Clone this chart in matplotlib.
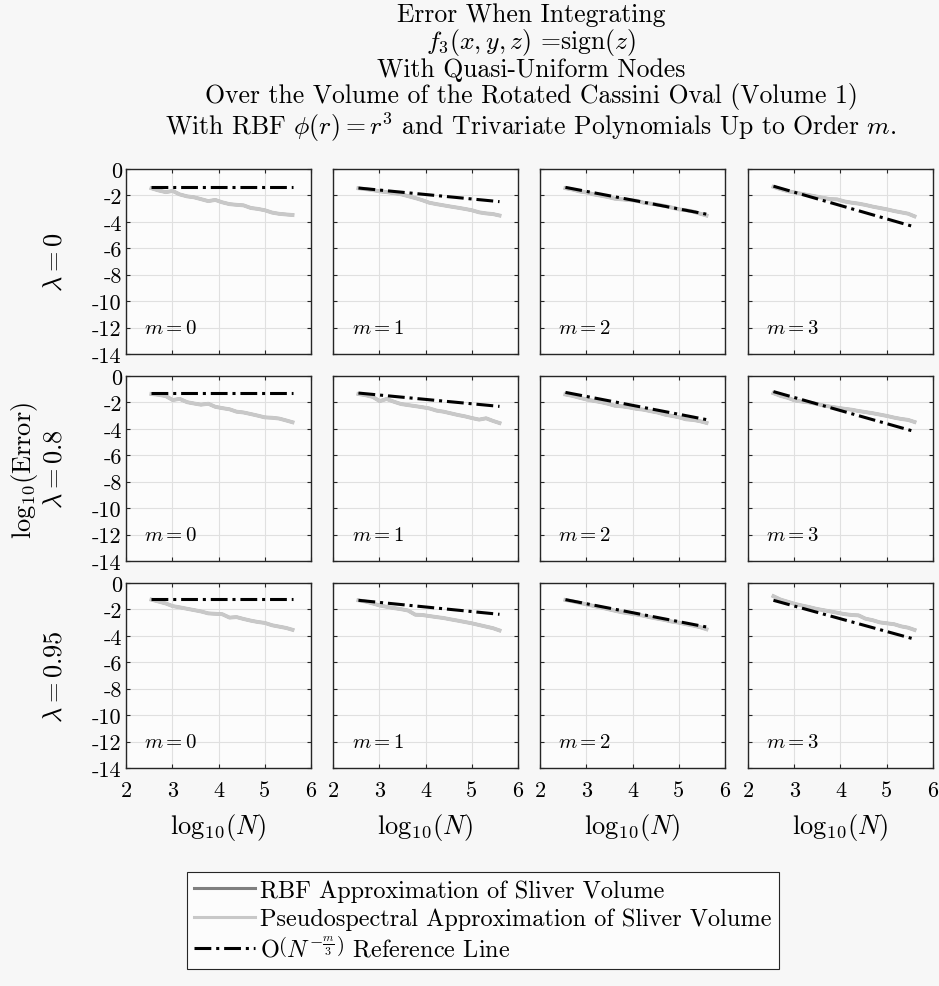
"""
Error grid: 3 rows (lambda) x 4 columns (polynomial order m).
Grey = pseudospectral / RBF errors, black dash-dot = O(N^{-m/3}) reference.
"""

import matplotlib
matplotlib.use("Agg")
import matplotlib.pyplot as plt
import matplotlib.lines as mlines

# ── data ──────────────────────────────────────────────────────────────────────
LAMBDAS = ["0", "0.8", "0.95"]
ORDERS  = [0, 1, 2, 3]

LOG_N = [2.55, 2.70, 2.86, 3.01, 3.16, 3.32, 3.47, 3.62, 3.78, 3.93, 4.08,
         4.24, 4.39, 4.54, 4.70, 4.85, 5.00, 5.16, 5.31, 5.46, 5.60]

# pseudospectral error, log10, one list per (lambda, m)
PS_L0 = [
    [-1.46, -1.62, -1.75, -1.66, -1.92, -2.07, -2.14, -2.28, -2.43, -2.34, -2.52,
     -2.66, -2.71, -2.75, -2.95, -3.02, -3.12, -3.30, -3.39, -3.44, -3.48],
    [-1.46, -1.52, -1.60, -1.69, -1.75, -1.83, -1.91, -2.05, -2.20, -2.36, -2.55,
     -2.66, -2.75, -2.84, -2.93, -3.02, -3.12, -3.28, -3.36, -3.41, -3.52],
    [-1.45, -1.55, -1.70, -1.78, -1.92, -2.02, -2.12, -2.25, -2.30, -2.35, -2.40,
     -2.55, -2.62, -2.70, -2.80, -2.92, -3.05, -3.12, -3.22, -3.38, -3.52],
    [-1.35, -1.52, -1.68, -1.78, -1.88, -1.98, -2.08, -2.18, -2.28, -2.30, -2.45,
     -2.55, -2.62, -2.72, -2.85, -2.95, -3.05, -3.18, -3.28, -3.38, -3.58],
]
PS_L08 = [
    [-1.36, -1.42, -1.52, -1.82, -1.73, -1.98, -2.08, -2.17, -2.10, -2.33, -2.43,
     -2.52, -2.70, -2.76, -2.88, -3.00, -3.13, -3.16, -3.22, -3.36, -3.50],
    [-1.36, -1.45, -1.58, -1.90, -1.74, -1.95, -2.12, -2.20, -2.28, -2.36, -2.45,
     -2.62, -2.70, -2.82, -2.95, -3.05, -3.18, -3.30, -3.20, -3.40, -3.56],
    [-1.40, -1.50, -1.65, -1.78, -1.88, -1.98, -2.10, -2.25, -2.30, -2.38, -2.48,
     -2.55, -2.66, -2.76, -2.92, -3.02, -3.12, -3.28, -3.32, -3.42, -3.55],
    [-1.30, -1.50, -1.65, -1.85, -1.93, -2.00, -2.10, -2.22, -2.32, -2.40, -2.48,
     -2.55, -2.65, -2.73, -2.82, -2.92, -3.02, -3.15, -3.25, -3.32, -3.48],
]
PS_L095 = [
    [-1.26, -1.40, -1.55, -1.75, -1.84, -1.95, -2.05, -2.15, -2.30, -2.33, -2.36,
     -2.62, -2.58, -2.72, -2.85, -2.95, -3.02, -3.20, -3.30, -3.40, -3.54],
    [-1.31, -1.40, -1.55, -1.70, -1.80, -1.90, -1.98, -2.08, -2.40, -2.42, -2.50,
     -2.58, -2.65, -2.75, -2.85, -2.95, -3.05, -3.18, -3.30, -3.42, -3.59],
    [-1.28, -1.38, -1.50, -1.62, -1.74, -1.86, -1.98, -2.10, -2.22, -2.30, -2.38,
     -2.48, -2.60, -2.70, -2.80, -2.92, -3.00, -3.12, -3.22, -3.34, -3.50],
    [-1.00, -1.25, -1.42, -1.58, -1.70, -1.82, -1.95, -2.05, -2.15, -2.25, -2.35,
     -2.42, -2.45, -2.70, -2.82, -2.98, -3.05, -3.12, -3.28, -3.38, -3.55],
]
PS_ERR = [PS_L0, PS_L08, PS_L095]
# RBF error sits right under the pseudospectral curve in every panel
RBF_ERR = PS_ERR

# reference line end points (log10 error at first / last N)
REF_X     = [2.55, 5.60]
REF_START = [[-1.34, -1.44, -1.39, -1.30],
             [-1.29, -1.29, -1.24, -1.18],
             [-1.24, -1.31, -1.26, -1.31]]
REF_END   = [[-1.34, -2.47, -3.42, -4.38],
             [-1.29, -2.30, -3.30, -4.20],
             [-1.24, -2.37, -3.33, -4.25]]

X_TICKS = [2, 3, 4, 5, 6]
Y_TICKS = [0, -2, -4, -6, -8, -10, -12, -14]

TITLE = [
    "Error When Integrating",
    r"$f_3(x, y, z)$ =sign$(z)$",
    "With Quasi-Uniform Nodes",
    "Over the Volume of the Rotated Cassini Oval (Volume 1)",
    r"With RBF $\phi(r) = r^3$ and Trivariate Polynomials Up to Order $m$.",
]

# ── style ─────────────────────────────────────────────────────────────────────
plt.rcParams["font.family"] = "serif"
plt.rcParams["font.serif"] = ["cmr10"]
plt.rcParams["mathtext.fontset"] = "cm"
plt.rcParams["axes.unicode_minus"] = False

BG      = "#f7f7f7"
AX_BG   = "#fcfcfc"
C_RBF   = "#7f7f7f"
C_PS    = "#c8c8c8"
C_REF   = "black"
REF_DASH = (5.5, 1.6, 1.0, 1.6)
TICK_FS = 16
LAB_FS  = 18

W, H = 939, 987
fig = plt.figure(figsize=(W / 100, H / 100), dpi=100)
fig.patch.set_facecolor(BG)

ax_left   = [126, 333, 540, 748]
ax_top    = [170, 377, 584]
ax_w, ax_h = 185, 185

for r, lam in enumerate(LAMBDAS):
    for c, m in enumerate(ORDERS):
        ax = fig.add_axes([ax_left[c] / W, 1 - (ax_top[r] + ax_h) / H,
                           ax_w / W, ax_h / H])
        ax.set_facecolor(AX_BG)

        ax.plot(LOG_N, RBF_ERR[r][c], color=C_RBF, lw=2.2, zorder=2)
        ax.plot(LOG_N, PS_ERR[r][c], color=C_PS, lw=2.8, zorder=3)
        ax.plot(REF_X, [REF_START[r][c], REF_END[r][c]], color=C_REF, lw=2.2,
                dashes=REF_DASH, zorder=4)

        ax.text(2.4, -12, f"$m = {m}$", fontsize=15, va="center", ha="left")

        ax.set_xlim(2, 6)
        ax.set_ylim(-14, 0)
        ax.set_xticks(X_TICKS)
        ax.set_yticks(Y_TICKS)
        if r == len(LAMBDAS) - 1:
            ax.set_xticklabels([str(t) for t in X_TICKS])
            ax.set_xlabel(r"$\mathrm{log}_{10}(N)$", fontsize=LAB_FS + 1,
                          labelpad=8)
        else:
            ax.set_xticklabels([])
        if c == 0:
            ax.set_yticklabels([str(t) for t in Y_TICKS])
        else:
            ax.set_yticklabels([])

        ax.tick_params(direction="in", length=3, width=0.8, labelsize=TICK_FS,
                       top=True, right=True, pad=3, colors="#262626",
                       labelcolor="black")
        ax.tick_params(axis="x", pad=9)
        ax.grid(color="#e0e0e0", linewidth=0.8)
        ax.set_axisbelow(True)
        for s in ax.spines.values():
            s.set_color("#262626")
            s.set_linewidth(1.0)

    fig.text(55 / W, 1 - (ax_top[r] + ax_h / 2) / H, rf"$\lambda = {lam}$",
             rotation=90, ha="center", va="center", fontsize=LAB_FS + 1)

fig.text(25 / W, 1 - 470 / H, r"$\mathrm{log}_{10}(\mathrm{Error})$",
         rotation=90, ha="center", va="center", fontsize=LAB_FS + 1)

# ── title (one block, five lines) ─────────────────────────────────────────────
fig.text(531 / W, 1 - 3 / H, "\n".join(TITLE), ha="center", va="top",
         multialignment="center", fontsize=18.5, linespacing=1.02)

# ── legend ────────────────────────────────────────────────────────────────────
handles = [
    mlines.Line2D([], [], color=C_RBF, lw=2.2,
                  label="RBF Approximation of Sliver Volume"),
    mlines.Line2D([], [], color=C_PS, lw=2.2,
                  label="Pseudospectral Approximation of Sliver Volume"),
    mlines.Line2D([], [], color=C_REF, lw=2.2, dashes=REF_DASH,
                  label=r"O$\left(N^{-\frac{m}{3}}\right)$ Reference Line"),
]
leg = fig.legend(handles=handles, loc="upper left",
                 bbox_to_anchor=(187 / W, 1 - 873 / H), fontsize=17.5,
                 frameon=True, fancybox=False, handlelength=2.5,
                 handletextpad=0.2, labelspacing=0.25, borderpad=0.3,
                 borderaxespad=0)
leg.get_frame().set_edgecolor("#262626")
leg.get_frame().set_facecolor(AX_BG)
leg.get_frame().set_linewidth(0.8)
leg.get_frame().set_alpha(1)

fig.savefig("out.png", dpi=100, facecolor=BG)
